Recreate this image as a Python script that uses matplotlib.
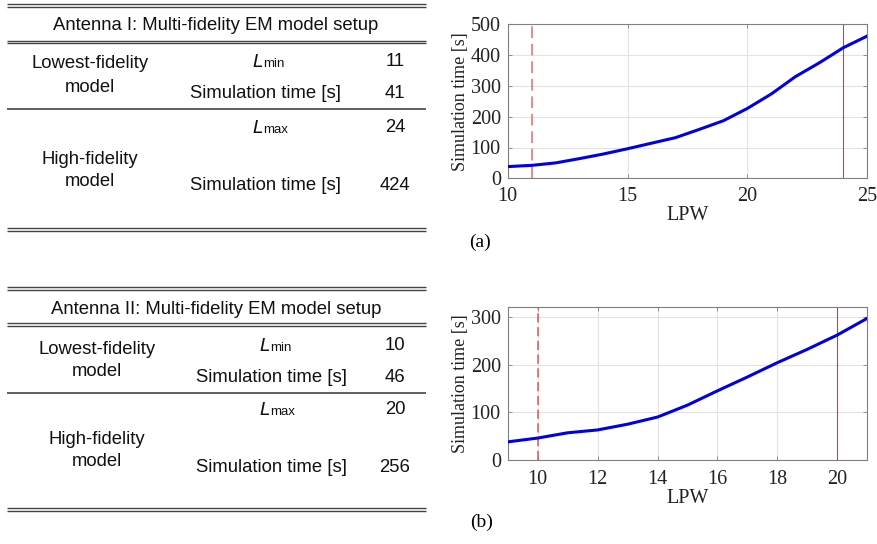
import matplotlib
matplotlib.use("Agg")
import matplotlib.pyplot as plt

# ---------------- data ----------------
lpw_a = [10, 11, 12, 13, 14, 15, 16, 17, 18, 19, 20, 21, 22, 23, 24, 25]
time_a = [38, 42, 50, 64, 79, 96, 114, 132, 159, 187, 227, 274, 330, 375, 424, 462]
lmin_a, lmax_a = 11, 24

lpw_b = [9, 10, 11, 12, 13, 14, 15, 16, 17, 18, 19, 20, 21]
time_b = [38, 46, 57, 63, 75, 90, 115, 145, 174, 204, 232, 262, 297]
lmin_b, lmax_b = 10, 20

table_a_title = "Antenna I: Multi-fidelity EM model setup"
table_b_title = "Antenna II: Multi-fidelity EM model setup"
table_a_vals = ["11", "41", "24", "424"]
table_b_vals = ["10", "46", "20", "256"]

W, H = 877, 544
fig = plt.figure(figsize=(W / 100, H / 100), dpi=100)

# ---------------- tables (pixel coordinates) ----------------
tab = fig.add_axes([0, 0, 1, 1])
tab.set_xlim(0, W)
tab.set_ylim(H, 0)
tab.axis("off")

sans = "Liberation Sans"
fs = 13.3
lc = "#444444"
tc = "#111111"


def hline(y, lw=1.0):
    tab.plot([7, 426], [y, y], color=lc, lw=lw, solid_capstyle="butt")


def dline(y):
    hline(y, 1.0)
    hline(y + 2.6, 1.0)


def txt(x, y, s, size=fs, ha="center"):
    tab.text(x, y, s, ha=ha, va="center", fontsize=size, family=sans, color=tc)


def draw_table(title, vals, lay):
    (yt1, yt2, ysing, ybot, ytitle, ylow1, ylow2, ylmin, ysim1,
     ylmax, yhigh1, yhigh2, ysim2, xl, xm) = lay
    dline(yt1)
    dline(yt2)
    hline(ysing, 1.2)
    dline(ybot)
    txt(216, ytitle, title)
    txt(xl, ylow1, "Lowest-fidelity")
    txt(xl, ylow2, "model")
    tab.text(xm, ylmin, r"$\mathit{L}$", ha="right", va="center",
             fontsize=fs, color=tc)
    txt(xm, ylmin + 2, "min", size=fs * 0.72, ha="left")
    txt(xm + 2, ysim1, "Simulation time [s]")
    txt(395, ylmin, vals[0])
    txt(395, ysim1, vals[1])
    tab.text(xm, ylmax, r"$\mathit{L}$", ha="right", va="center",
             fontsize=fs, color=tc)
    txt(xm, ylmax + 2, "max", size=fs * 0.72, ha="left")
    txt(395, ylmax, vals[2])
    txt(xl, yhigh1, "High-fidelity")
    txt(xl, yhigh2, "model")
    txt(xm + 2, ysim2, "Simulation time [s]")
    txt(395, ysim2, vals[3])


draw_table(table_a_title, table_a_vals,
           (4, 40.7, 109, 228, 25, 64, 88, 62, 93, 128, 159, 181, 185, 90, 263))
draw_table(table_b_title, table_b_vals,
           (287, 323, 392.7, 508, 309, 349, 371, 346, 377, 410, 440, 462, 468, 97, 270))

# ---------------- plots ----------------
serif = "Liberation Serif"


def style(ax, xpad=6):
    ax.grid(True, color="#e3e3e3", lw=0.8)
    ax.set_axisbelow(True)
    for s in ax.spines.values():
        s.set_color("#808080")
        s.set_linewidth(0.8)
    ax.tick_params(direction="in", length=3, width=0.6, color="#808080",
                   labelsize=14.5, top=True, right=True)
    ax.tick_params(axis="x", pad=xpad)
    ax.tick_params(axis="y", pad=5)
    for lab in ax.get_xticklabels() + ax.get_yticklabels():
        lab.set_family(serif)
        lab.set_color("#222222")


ax1 = fig.add_axes([507.7 / W, 1 - 178.3 / H, (867.3 - 507.7) / W, (178.3 - 24.3) / H])
ax1.plot(lpw_a, time_a, color="#0000e0", lw=2.2, zorder=3)
ax1.axvline(lmin_a, color="#e88a8a", lw=1.4, ls=(0, (6, 3)), zorder=2)
ax1.axvline(lmax_a, color="#ff2a2a", lw=0.8, zorder=2)
ax1.set_xlim(10, 25)
ax1.set_ylim(0, 500)
ax1.set_xticks([10, 15, 20, 25])
ax1.set_yticks([0, 100, 200, 300, 400, 500])
ax1.set_xlabel("LPW", family=serif, fontsize=14.5, color="#222222", labelpad=0)
ax1.set_ylabel("Simulation time [s]", family=serif, fontsize=13, color="#222222", labelpad=1)
style(ax1)

ax2 = fig.add_axes([507.7 / W, 1 - 460 / H, (867.3 - 507.7) / W, (460 - 307.3) / H])
ax2.plot(lpw_b, time_b, color="#0000e0", lw=2.2, zorder=3)
ax2.axvline(lmin_b, color="#e85050", lw=1.1, ls=(0, (6, 3)), zorder=2)
ax2.axvline(lmax_b, color="#ff2a2a", lw=0.8, zorder=2)
ax2.set_xlim(9, 21)
ax2.set_ylim(0, 320)
ax2.set_xticks([10, 12, 14, 16, 18, 20])
ax2.set_yticks([0, 100, 200, 300])
ax2.set_xlabel("LPW", family=serif, fontsize=14.5, color="#222222", labelpad=0)
ax2.set_ylabel("Simulation time [s]", family=serif, fontsize=13, color="#222222", labelpad=1)
style(ax2, xpad=7.5)

fig.text(480 / W, 1 - 242 / H, "(a)", family=serif, fontsize=14, ha="center", va="center")
fig.text(482 / W, 1 - 522 / H, "(b)", family=serif, fontsize=14, ha="center", va="center")

fig.savefig("out.png", dpi=100, facecolor="white")
